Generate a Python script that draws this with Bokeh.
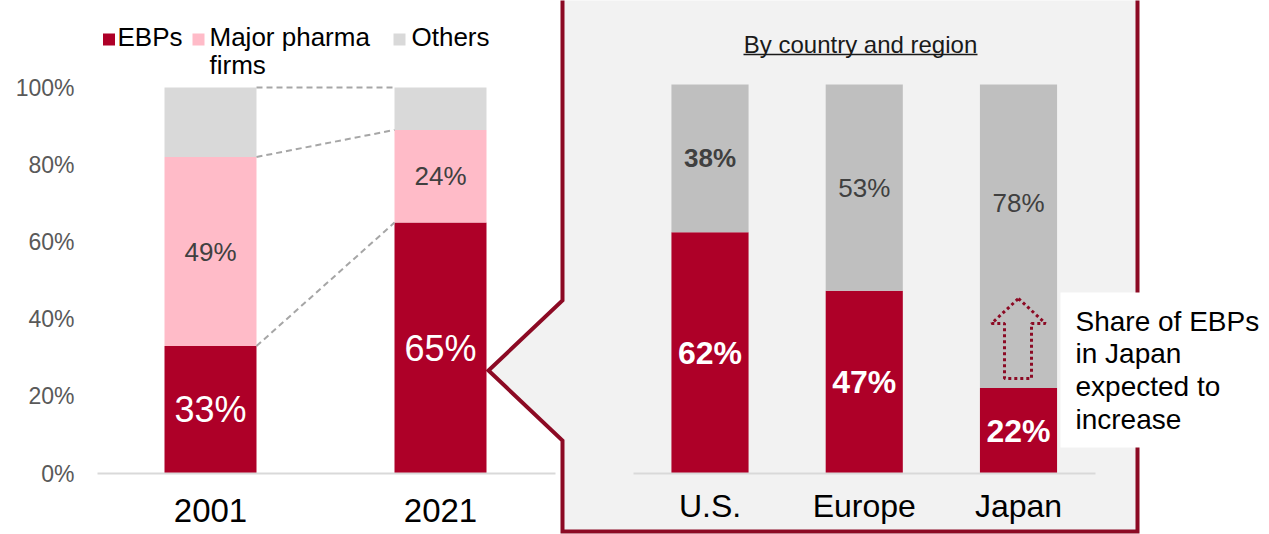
from bokeh.plotting import figure
from bokeh.models import (Range1d, LinearAxis, FixedTicker, PrintfTickFormatter,
                          ColumnDataSource)
from bokeh.core.properties import value
from bokeh.embed import file_html
from bokeh.resources import INLINE

# ---------------- data ----------------
years = ["2001", "2021"]
ebp_share = [33, 65]
major_share = [49, 24]
other_share = [18, 11]

regions = ["U.S.", "Europe", "Japan"]
region_ebp = [62, 47, 22]
region_other = [38, 53, 78]

y_ticks = [0, 20, 40, 60, 80, 100]
legend_labels = ["EBPs", "Major pharma\nfirms", "Others"]
title_text = "By country and region"
note_text = "Share of EBPs\nin Japan\nexpected to\nincrease"

# ---------------- styles ----------------
RED = "#AE0028"
PINK = "#FFBBC8"
LGREY = "#D9D9D9"
MGREY = "#BFBFBF"
DARKRED = "#8C0A24"
FONT = "Liberation Sans"

W, H = 1269, 534
OFF = 0


def make_range(img_a, val_a, img_b, val_b, axis):
    if axis == "x":
        pa, pb, size = img_a - OFF, img_b - OFF, W
    else:
        pa, pb, size = H - (img_a - OFF), H - (img_b - OFF), H
    k = (pb - pa) / (val_b - val_a)
    start = val_a - pa / k
    return Range1d(start, start + size / k)


def px_x(img, r):
    return r.start + (img - OFF) * (r.end - r.start) / W


def px_y(img, r):
    return r.start + (H - (img - OFF)) * (r.end - r.start) / H


xl = make_range(210, 0, 440, 1, "x")
yl = make_range(473, 0, 87, 100, "y")
xr = make_range(709.5, 0, 1018, 2, "x")
yr = make_range(473, 0, 84, 100, "y")

p = figure(width=W, height=H, x_range=xl, y_range=yl, x_axis_type=None, y_axis_type=None,
           toolbar_location=None, output_backend="svg", min_border=0,
           outline_line_color=None, background_fill_color="white")
p.extra_x_ranges = {"right": xr}
p.extra_y_ranges = {"right": yr}
R = dict(x_range_name="right", y_range_name="right")

# ---------------- callout box ----------------
cx = [px_x(v, xr) for v in (562, 562, 488, 562, 562, 1137, 1137)]
cy = [px_y(v, yr) for v in (-20, 300, 370, 440, 531, 531, -20)]
p.patch(cx, cy, fill_color="#F2F2F2", line_color=DARKRED, line_width=4,
        line_join="miter", **R)

# ---------------- left stacked bars ----------------
xi_l = list(range(len(years)))
src_l = ColumnDataSource(dict(x=xi_l, ebp=ebp_share, major=major_share, others=other_share))
p.vbar_stack(["ebp", "major", "others"], x="x", width=0.4, source=src_l,
             fill_color=[RED, PINK, LGREY], line_color=None)

# connectors
BW = 0.4
c01 = [ebp_share[0], ebp_share[0] + major_share[0], ebp_share[0] + major_share[0] + other_share[0]]
c21 = [ebp_share[1], ebp_share[1] + major_share[1], ebp_share[1] + major_share[1] + other_share[1]]
p.segment(x0=[xi_l[0] + BW / 2] * 3, y0=c01, x1=[xi_l[1] - BW / 2] * 3, y1=c21,
          line_color="#A6A6A6", line_dash="6 4", line_width=2)

# left labels
p.text(x=xi_l, y=[e / 2 for e in ebp_share], text=[f"{e}%" for e in ebp_share],
       text_color="white", text_font=value(FONT), text_font_size="36px",
       text_align="center", text_baseline="middle")
p.text(x=xi_l, y=[e + m / 2 for e, m in zip(ebp_share, major_share)],
       text=[f"{m}%" for m in major_share],
       text_color="#404040", text_font=value(FONT), text_font_size="26px",
       text_align="center", text_baseline="middle")

# ---------------- right stacked bars ----------------
xi_r = list(range(len(regions)))
src_r = ColumnDataSource(dict(x=xi_r, ebp=region_ebp, others=region_other))
p.vbar_stack(["ebp", "others"], x="x", width=0.5, source=src_r,
             fill_color=[RED, MGREY], line_color=None, **R)

p.text(x=xi_r, y=[e / 2 for e in region_ebp], text=[f"{e}%" for e in region_ebp],
       text_color="white", text_font=value(FONT), text_font_size="32px", text_font_style="bold",
       text_align="center", text_baseline="middle", **R)
# others labels: first bold, others normal; Japan label lifted above the arrow
p.text(x=[xi_r[0]], y=[region_ebp[0] + region_other[0] / 2], text=[f"{region_other[0]}%"],
       text_color="#404040", text_font=value(FONT), text_font_size="26px", text_font_style="bold",
       text_align="center", text_baseline="middle", **R)
p.text(x=[xi_r[1]], y=[region_ebp[1] + region_other[1] / 2], text=[f"{region_other[1]}%"],
       text_color="#404040", text_font=value(FONT), text_font_size="26px",
       text_align="center", text_baseline="middle", **R)
p.text(x=[xi_r[2]], y=[region_ebp[2] + region_other[2] / 2], text=[f"{region_other[2]}%"],
       text_color="#404040", text_font=value(FONT), text_font_size="26px", y_offset=-33,
       text_align="center", text_baseline="middle", **R)

# title
p.text(x=[px_x(860, xr)], y=[px_y(44, yr)], text=[title_text], text_color="#1A1A1A",
       text_font=value(FONT), text_font_size="24px", text_align="center",
       text_baseline="middle", **R)
p.segment(x0=[px_x(743, xr)], y0=[px_y(54, yr)], x1=[px_x(977, xr)], y1=[px_y(54, yr)],
          line_color="#1A1A1A", line_width=1.5, **R)

# arrow (dotted outline)
ax = [px_x(v, xr) for v in (1018, 1045, 1031, 1031, 1004, 1004, 991)]
ay = [px_y(v, yr) for v in (298, 323, 323, 378, 378, 323, 323)]
p.patch(ax, ay, fill_color=None, line_color=DARKRED, line_width=3, line_dash="3 3", **R)

# note box
p.quad(left=[px_x(1060, xl)], right=[px_x(1300, xl)], top=[px_y(292, yl)], bottom=[px_y(447, yl)],
       fill_color="white", line_color=None)
p.text(x=[px_x(1075, xl)], y=[px_y(305, yl)], text=[note_text], text_color="black",
       text_font=value(FONT), text_font_size="28px", text_line_height=1.06,
       text_align="left", text_baseline="top")

# ---------------- legend ----------------
sq_x = [108.5, 198, 399]
tx_x = [117, 209, 411]
p.scatter(x=[px_x(v, xl) for v in sq_x], y=[px_y(39, yl)] * 3, marker="square", size=12,
          fill_color=[RED, PINK, LGREY], line_color=None)
p.text(x=[px_x(v, xl) for v in tx_x], y=[px_y(21, yl)] * 3, text=legend_labels,
       text_color="black", text_font=value(FONT), text_font_size="26px",
       text_line_height=0.95, text_align="left", text_baseline="top")

# ---------------- axes ----------------
xa = LinearAxis(ticker=FixedTicker(ticks=xi_l),
                major_label_overrides={i: s for i, s in enumerate(years)},
                fixed_location=0, bounds=(px_x(97, xl), px_x(555, xl)),
                axis_line_color=LGREY, axis_line_width=2,
                major_tick_line_color=None, minor_tick_line_color=None,
                major_label_text_font=FONT, major_label_text_font_size="33px",
                major_label_text_color="black", major_label_standoff=19)
p.add_layout(xa, "below")

xa2 = LinearAxis(ticker=FixedTicker(ticks=xi_r),
                 major_label_overrides={i: s for i, s in enumerate(regions)},
                 fixed_location=0, bounds=(px_x(633, xr), px_x(1095, xr)),
                 axis_line_color=LGREY, axis_line_width=2,
                 major_tick_line_color=None, minor_tick_line_color=None,
                 major_label_text_font=FONT, major_label_text_font_size="32px",
                 major_label_text_color="black", major_label_standoff=8, **R)
p.add_layout(xa2, "below")

ya = LinearAxis(ticker=FixedTicker(ticks=y_ticks), formatter=PrintfTickFormatter(format="%d%%"),
                fixed_location=px_x(97, xl), axis_line_color=None,
                major_tick_line_color=None, minor_tick_line_color=None,
                major_label_text_font=FONT, major_label_text_font_size="23px",
                major_label_text_color="#595959", major_label_standoff=17)
p.add_layout(ya, "left")

open("out.html", "w").write(file_html(p, INLINE))
